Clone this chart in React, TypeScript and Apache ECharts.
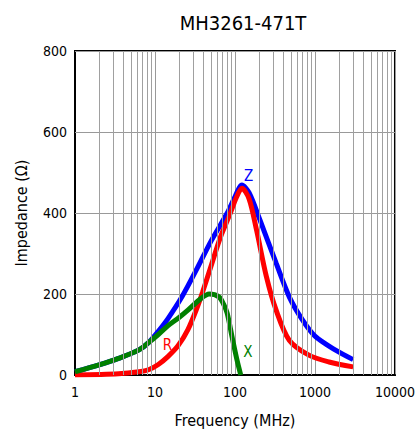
import React, { useEffect, useRef } from "react";
import * as echarts from "echarts";

const title = "MH3261-471T";
const xName = "Frequency (MHz)";
const yName = "Impedance (Ω)";

const zFreq = [1, 2, 3.5, 6.3, 8.3, 11, 14.6, 22, 34, 50, 80, 100, 122, 150, 205, 327, 477, 697, 1000, 1786, 3000];
const zVal = [8, 25, 41, 62, 80, 108, 140, 195, 265, 330, 400, 440, 469, 450, 383, 276, 193, 136, 96, 62, 38];

const rFreq = [1, 3.5, 6.3, 8.3, 11, 14.6, 19.4, 25.8, 34, 39.4, 50, 66, 88, 105, 122, 150, 186, 247, 327, 477, 839, 1500, 3000];
const rVal = [0, 3, 8, 13, 26, 46, 72, 112, 169, 205, 268, 341, 401, 440, 461, 435, 358, 243, 160, 86, 49, 32, 20];

const xFreq = [1, 2, 3.5, 6.3, 8.3, 11, 14.6, 20, 25.8, 37.5, 47.6, 63, 72, 80, 91.7, 106, 118];
const xVal = [8, 25, 41, 62, 80, 100, 122, 142, 160, 189, 200, 193, 175, 152, 95, 37, 0];

const minorGrid = [2, 3, 4, 5, 6, 7, 8, 9, 20, 30, 40, 50, 60, 70, 80, 90, 200, 300, 400, 500, 600, 700, 800, 900, 2000, 3000, 4000, 5000, 6000, 7000, 8000, 9000];

const labels = [
  { name: "Z", coord: [148, 492], color: "#0000ff" },
  { name: "R", coord: [14.3, 74], color: "#ff0000" },
  { name: "X", coord: [145, 58], color: "#008000" },
];

const FONT = "'Liberation Sans Narrow', 'DejaVu Sans Condensed', 'DejaVu Sans', sans-serif";

const zip = (a: number[], b: number[]) => a.map((v, i) => [v, b[i]]);

export default function App() {
  const ref = useRef<HTMLDivElement>(null);
  useEffect(() => {
    if (!ref.current) return;
    const chart = echarts.init(ref.current, undefined, { renderer: "svg" });
    const lineSeries = (name: string, data: number[][], color: string, label: any) => ({
      type: "line",
      name,
      data,
      smooth: 0.3,
      showSymbol: false,
      symbol: "none",
      lineStyle: { color, width: 5 },
      z: 3,
      markPoint: {
        symbol: "circle",
        symbolSize: 1,
        itemStyle: { color: "transparent" },
        silent: true,
        label: {
          show: true,
          position: "inside",
          formatter: label.name,
          color: label.color,
          fontSize: 15,
          fontFamily: FONT,
        },
        data: [{ coord: label.coord }],
      },
    });
    chart.setOption({
      animation: false,
      title: {
        text: title,
        left: 238,
        top: 8,
        textAlign: "center",
        textStyle: { fontFamily: FONT, fontSize: 20, fontWeight: "normal", color: "#000" },
      },
      grid: {
        left: 75,
        right: 17,
        top: 51,
        bottom: 58,
        show: true,
        borderColor: "#000",
        borderWidth: 2,
        containLabel: false,
      },
      xAxis: {
        type: "log",
        logBase: 10,
        min: 1,
        max: 10000,
        name: xName,
        nameLocation: "middle",
        nameGap: 37,
        nameTextStyle: { fontFamily: FONT, fontSize: 16, color: "#000" },
        axisLine: { show: true, lineStyle: { color: "#000", width: 2 } },
        axisTick: { show: false },
        axisLabel: {
          fontFamily: FONT,
          fontSize: 14,
          color: "#000",
          margin: 10,
          formatter: (v: number) => String(Math.round(v)),
        },
        splitLine: { show: true, lineStyle: { color: "#999", width: 1 } },
      },
      yAxis: {
        type: "value",
        min: 0,
        max: 800,
        interval: 200,
        name: yName,
        nameLocation: "middle",
        nameGap: 46,
        nameTextStyle: { fontFamily: FONT, fontSize: 16, color: "#000" },
        axisLine: { show: true, lineStyle: { color: "#000", width: 2 } },
        axisTick: { show: true, inside: true, length: 4, lineStyle: { color: "#999" } },
        axisLabel: { fontFamily: FONT, fontSize: 14, color: "#000", margin: 8 },
        splitLine: { show: true, lineStyle: { color: "#999", width: 1 } },
      },
      series: [
        {
          type: "line",
          name: "grid",
          data: [],
          silent: true,
          markLine: {
            silent: true,
            symbol: "none",
            label: { show: false },
            lineStyle: { color: "#a0a0a0", width: 1, type: "solid" },
            data: minorGrid.map((v) => ({ xAxis: v })),
          },
          z: 1,
        },
        lineSeries("Z", zip(zFreq, zVal), "#0000ff", labels[0]),
        lineSeries("R", zip(rFreq, rVal), "#ff0000", labels[1]),
        lineSeries("X", zip(xFreq, xVal), "#008000", labels[2]),
      ],
    });
    return () => chart.dispose();
  }, []);
  return <div ref={ref} style={{ position: "absolute", left: 0, top: 0, width: 418, height: 433 }} />;
}
